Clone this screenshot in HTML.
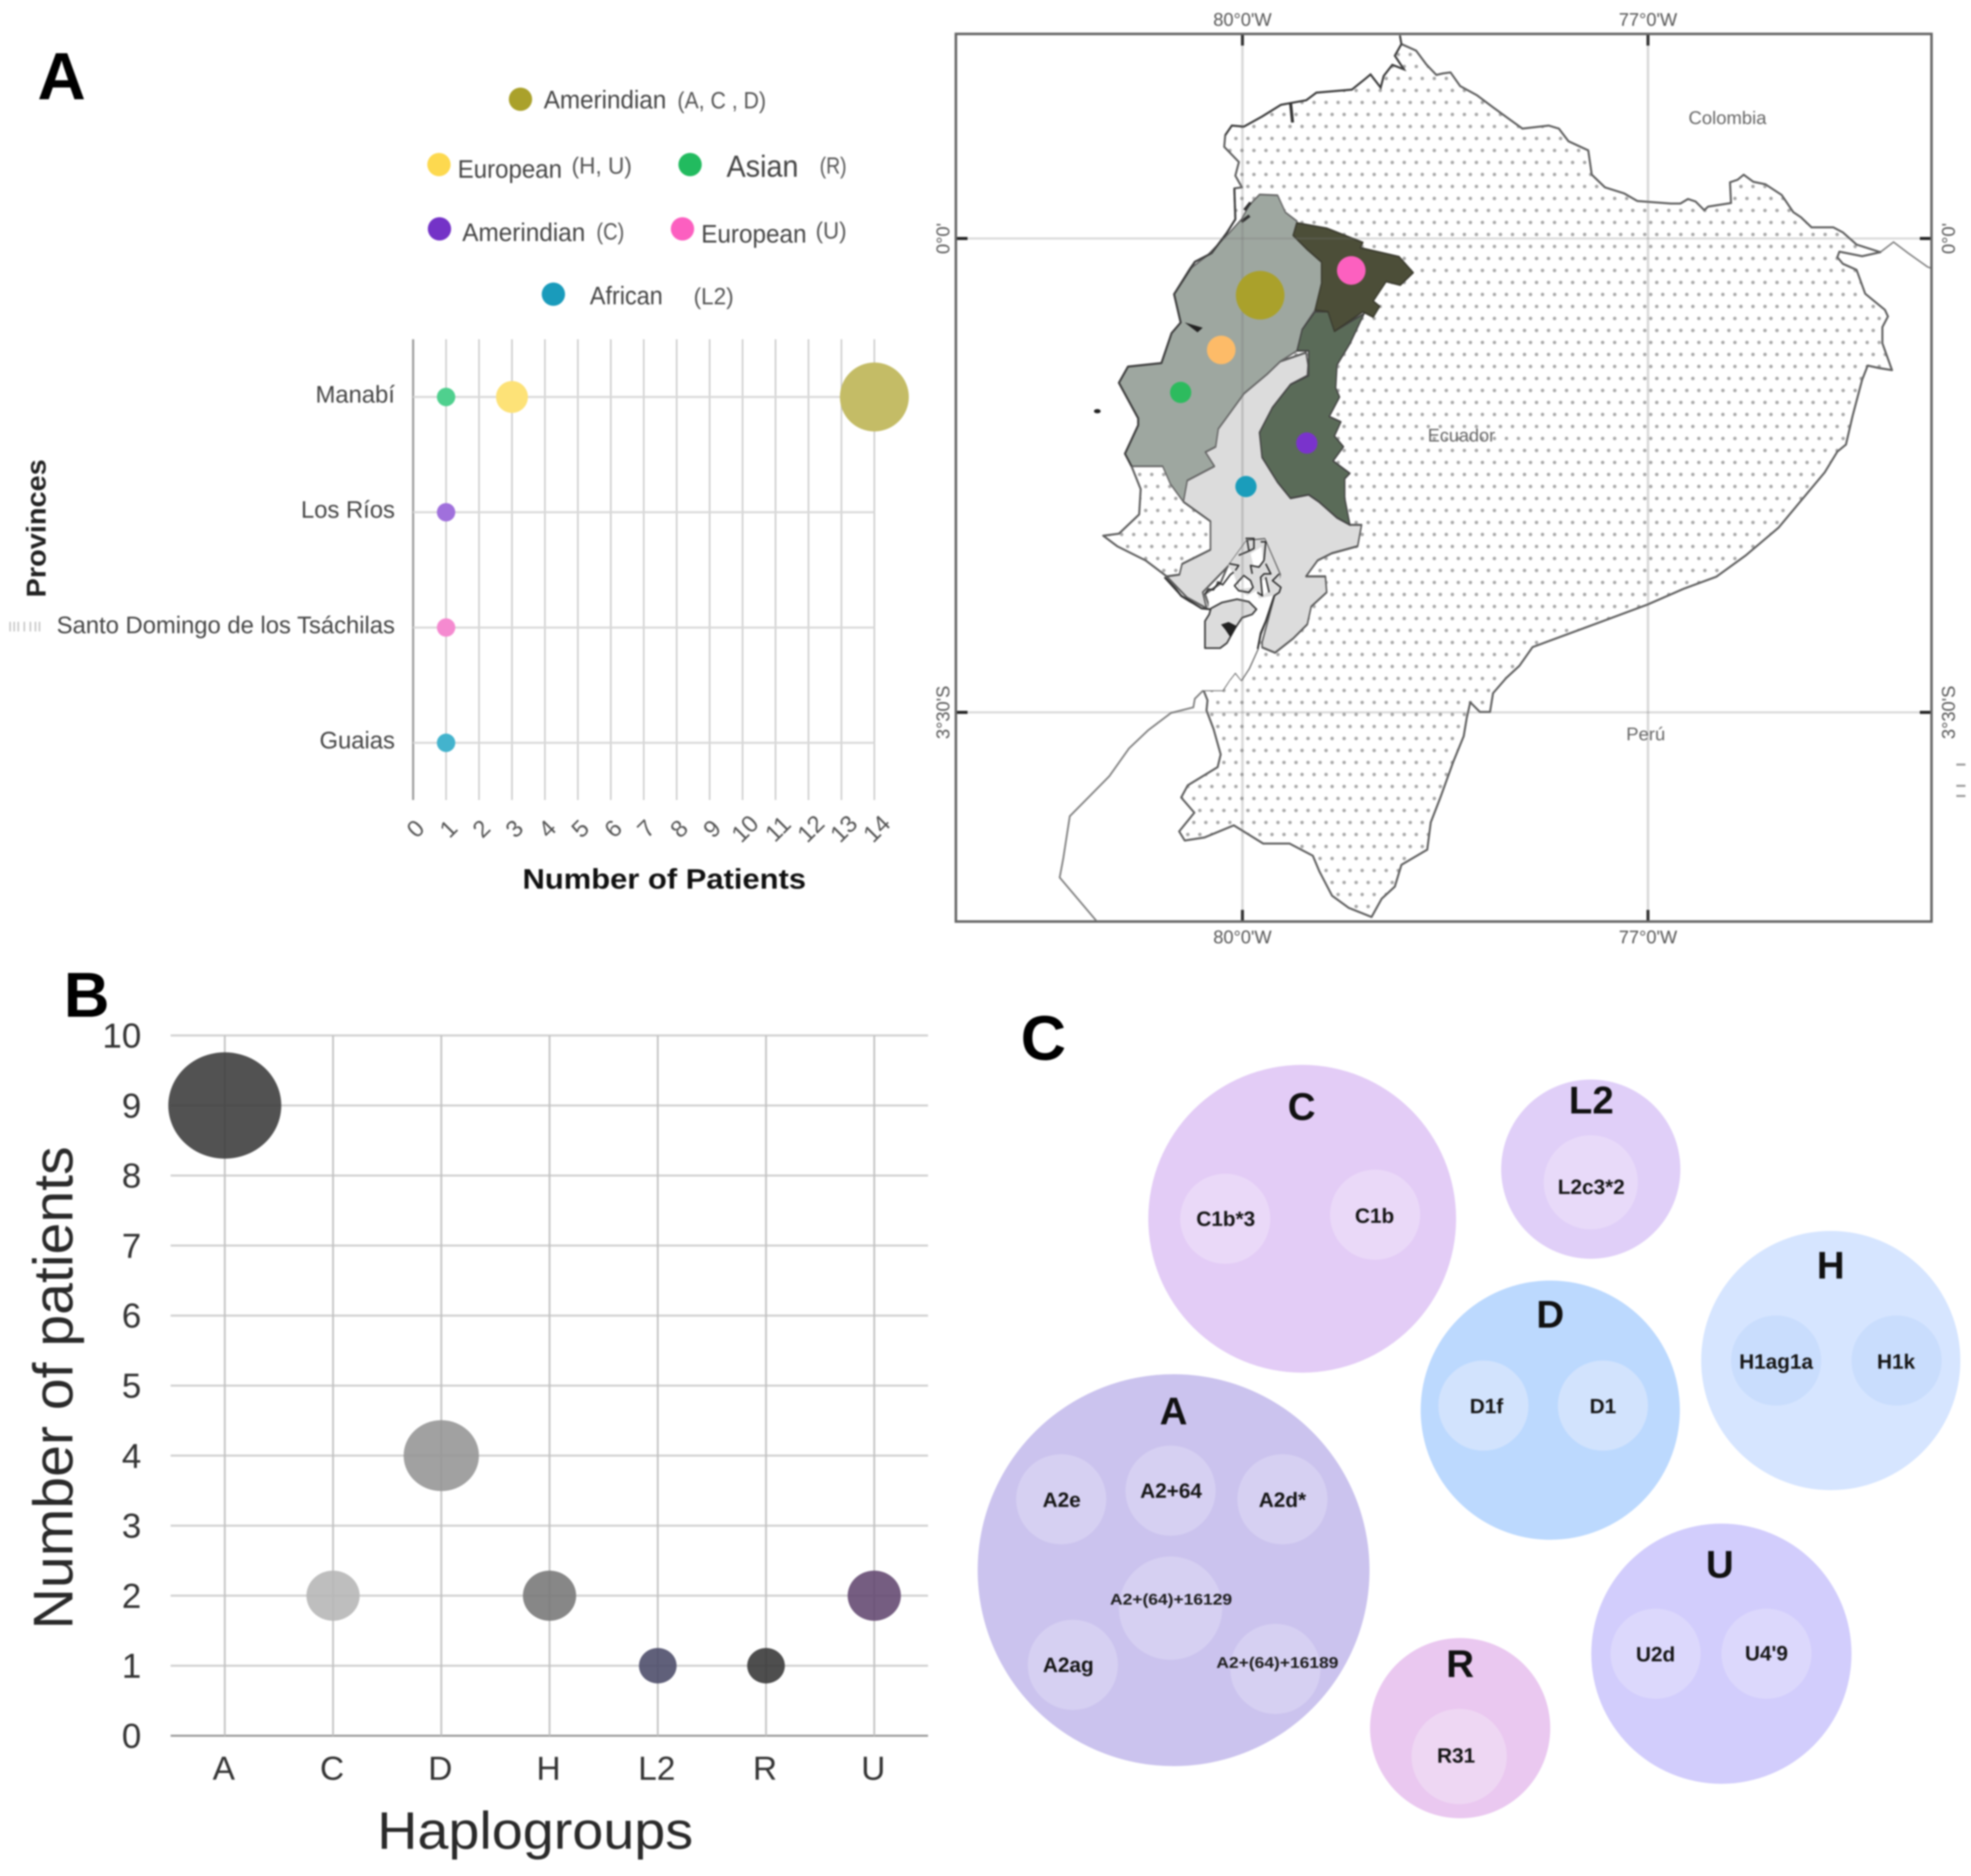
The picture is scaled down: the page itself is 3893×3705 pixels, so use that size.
<!DOCTYPE html>
<html lang="en">
<head>
<meta charset="utf-8">
<title>Haplogroups in Ecuador</title>
<style>
html,body{margin:0;padding:0;background:#fff;width:3893px;height:3705px;overflow:hidden}
svg{position:absolute;left:0;top:0;filter:blur(1.5px)}
text{font-family:"Liberation Sans",sans-serif}
.leg{font-size:50px;fill:#444}
.par{font-size:46px;fill:#555}
.maplab{font-size:36px;fill:#666}
.hap{font-size:76px;font-weight:bold;fill:#111;text-anchor:middle}
.sub{font-size:41px;font-weight:bold;fill:#151515;text-anchor:middle}
.tiny{font-size:31px;font-weight:bold;fill:#1c1c1c;text-anchor:middle}
</style>
</head>
<body>
<svg id="fig" xmlns="http://www.w3.org/2000/svg" width="3893" height="3705" viewBox="0 0 3893 3705">
  <defs>
    <pattern id="dots" patternUnits="userSpaceOnUse" width="23.75" height="47.4" patternTransform="translate(2755.8 149.1)">
      <circle cx="5.9" cy="5.9" r="3.5" fill="#a8a8a8"/>
      <circle cx="17.8" cy="29.6" r="3.5" fill="#a8a8a8"/>
    </pattern>
  </defs>
  <rect width="3893" height="3705" fill="#fff"/>

  <text x="74" y="196" font-size="132" font-weight="bold" fill="#000">A</text>
  <text x="126" y="2008" font-size="125" font-weight="bold" fill="#000">B</text>
  <text x="2016" y="2093" font-size="124" font-weight="bold" fill="#000">C</text>

  <g>
    <circle cx="1028" cy="196" r="23" fill="#aaa12b"/>
    <text class="leg" x="1074" y="214" textLength="242" lengthAdjust="spacingAndGlyphs">Amerindian</text>
    <text class="par" x="1338" y="214" textLength="175" lengthAdjust="spacingAndGlyphs">(A, C , D)</text>
    <circle cx="867" cy="325" r="23" fill="#fdd94f"/>
    <text class="leg" x="904" y="351" textLength="206" lengthAdjust="spacingAndGlyphs">European</text>
    <text class="par" x="1129" y="343" textLength="119" lengthAdjust="spacingAndGlyphs">(H, U)</text>
    <circle cx="1363" cy="325" r="23" fill="#22bb5f"/>
    <text class="leg" x="1435" y="349" style="font-size:60px" textLength="142" lengthAdjust="spacingAndGlyphs">Asian</text>
    <text class="par" x="1619" y="343" textLength="53" lengthAdjust="spacingAndGlyphs">(R)</text>
    <circle cx="868" cy="452" r="23" fill="#7433c7"/>
    <text class="leg" x="913" y="476" textLength="243" lengthAdjust="spacingAndGlyphs">Amerindian</text>
    <text class="par" x="1178" y="473" textLength="55" lengthAdjust="spacingAndGlyphs">(C)</text>
    <circle cx="1348" cy="452" r="23" fill="#fc5fc0"/>
    <text class="leg" x="1385" y="479" textLength="208" lengthAdjust="spacingAndGlyphs">European</text>
    <text class="par" x="1611" y="471" textLength="61" lengthAdjust="spacingAndGlyphs">(U)</text>
    <circle cx="1093" cy="581" r="23" fill="#1a9bbb"/>
    <text class="leg" x="1165" y="601" textLength="144" lengthAdjust="spacingAndGlyphs">African</text>
    <text class="par" x="1370" y="601" textLength="79" lengthAdjust="spacingAndGlyphs">(L2)</text>
  </g>

  <g id="chartA"></g>
  <text transform="translate(90 1180) rotate(-90)" font-size="54" font-weight="bold" fill="#222" textLength="273" lengthAdjust="spacingAndGlyphs">Provinces</text>
  <text x="1032" y="1755" font-size="56" font-weight="bold" fill="#111" textLength="560" lengthAdjust="spacingAndGlyphs">Number of Patients</text>
  <g stroke="#c4c4c4" stroke-width="3">
    <path d="M20 1228V1247M28 1228V1247M36 1228V1247M48 1228V1247M60 1228V1247M70 1228V1247M78 1228V1247"/>
  </g>

  <g>
    <path fill="none" stroke="#808080" stroke-width="3.5" d="M2377 1363L2360 1380L2357 1397L2313 1408L2268 1442L2230 1478L2191 1533L2113 1612L2100 1696L2093 1733L2165 1818"/>
    <path fill="none" stroke="#808080" stroke-width="3" d="M3714 498L3740 478L3769 500L3807 527L3815 530"/>
    <path fill="url(#dots)" stroke="#5f5f5f" stroke-width="4" stroke-linejoin="round" d="M2768 87L2797 100L2817 127L2837 148L2850 145L2865 143L2884 170L2917 188L2949 212L2982 236L3007 254L3059 248L3079 254L3098 279L3137 297L3144 345L3170 370L3208 382L3234 397L3300 402L3319 402L3334 393L3349 398L3366 415L3374 408L3419 401L3417 360L3432 355L3444 345L3463 359L3487 364L3519 385L3542 419L3557 429L3578 449L3621 449L3640 459L3667 483L3714 498L3678 506L3633 497L3629 508L3640 521L3667 533L3684 580L3723 612L3729 625L3718 646L3718 678L3737 731L3712 727L3689 722L3678 750L3659 822L3646 878L3629 892L3604 933L3558 988L3513 1042L3448 1097L3390 1139L3325 1163L3254 1194L3157 1230L3092 1254L3027 1278L3001 1315L2975 1339L2949 1369L2943 1406L2923 1406L2904 1387L2897 1418L2891 1454L2871 1503L2858 1539L2845 1575L2826 1624L2819 1678L2768 1708L2755 1751L2729 1775L2709 1811L2664 1793L2631 1769L2606 1721L2593 1690L2547 1666L2495 1666L2437 1630L2379 1654L2340 1660L2329 1642L2359 1605L2333 1575L2346 1551L2405 1515L2411 1490L2397 1440L2383 1403L2385 1383L2377 1363L2415 1363L2428 1343L2440 1328L2452 1343L2467 1320L2484 1282L2490 1253L2500 1227L2517 1177L2527 1167L2527 1133L2500 1070L2463 1063L2447 1097L2427 1113L2410 1153L2380 1173L2390 1203L2373 1202L2333 1177L2304 1138L2263 1107L2207 1079L2179 1058L2210 1054L2250 1016L2253 966L2235 921L2222 896L2248 840L2248 826L2210 756L2228 724L2294 717L2314 658L2332 637L2319 581L2350 531L2360 517L2393 500L2423 460L2440 433L2438 372L2453 370L2440 347L2447 320L2418 290L2420 267L2433 248L2457 250L2493 230L2530 207L2580 198L2600 183L2670 177L2695 157L2707 147L2727 173L2733 150L2750 128L2773 137L2755 110Z"/>
    <path fill="none" stroke="#3e3e3e" stroke-width="4" d="M2765 70L2768 87L2755 110L2773 137L2750 128L2733 150L2727 173L2707 147L2695 157L2670 177L2600 183L2580 198L2530 207L2493 230L2457 250L2433 248L2420 267"/>
    <path fill="none" stroke="#333" stroke-width="6" d="M2549 203L2553 242"/>
    <g transform="translate(2100 300) scale(.5102 .7015)">
      <path fill="#dcdcdc" stroke="#5a5a5a" stroke-width="6" stroke-linejoin="round" d="M940 565L948 600L945 630L880 655L810 720L760 790L770 860L830 930L880 975L950 965L990 985L1060 1030L1110 1050L1155 1050L1140 1110L1040 1130L985 1150L940 1195L1015 1195L1020 1240L960 1280L945 1330L890 1370L820 1410L770 1395L770 1380L840 1190L780 1090L710 1095L640 1165L540 1240L555 1285L480 1255L400 1195L450 1190L460 1160L570 1120L570 1040L465 985L480 925L585 885L550 845L590 830L600 780L640 740L700 680L790 625L840 590Z"/>
      <path fill="#9ea7a0" stroke="#666" stroke-width="5" stroke-linejoin="round" d="M690 190L720 150L760 120L830 122L860 170L905 195L890 235L945 275L1000 310L1000 370L975 445L925 500L905 560L840 590L790 625L700 680L640 740L600 780L590 830L550 845L585 885L480 925L465 985L415 935L385 885L265 885L240 850L265 810L290 770L290 750L215 650L250 605L380 595L420 510L455 480L430 400L490 330L560 290L640 230Z"/>
      <path fill="#5a6b58" stroke="#444" stroke-width="5" stroke-linejoin="round" d="M975 450L1025 450L1050 505L1165 455L1110 540L1060 600L1055 665L1070 690L1030 745L1075 760L1050 800L1085 830L1045 870L1110 905L1090 920L1090 975L1110 1050L1060 1030L990 985L950 965L880 975L830 930L770 860L760 790L810 720L880 655L950 630L950 560L905 560L925 500Z"/>
      <path fill="#4c4e38" stroke="#3c3c30" stroke-width="5" stroke-linejoin="round" d="M905 200L1020 215L1160 255L1150 270L1300 295L1355 340L1305 375L1250 365L1200 420L1225 435L1200 465L1160 450L1050 505L1025 450L975 445L1000 370L1000 310L945 275L890 235Z"/>
      <path fill="#222" d="M470 480L540 495L520 508Z"/>
      <ellipse cx="132" cy="730" rx="13" ry="6" fill="#222"/>
    </g>
    <path fill="none" stroke="#3e3e3e" stroke-width="4" stroke-linejoin="round" d="M2438 372L2440 433L2423 460L2393 500L2360 517L2350 533L2319 581L2332 637L2314 658L2294 717L2228 724L2210 756L2248 826L2248 840L2222 896L2235 921"/>
    <path fill="none" stroke="#333" stroke-width="6" d="M2452 438L2468 426M2458 415L2470 400"/>
    <g transform="translate(2300 1020) scale(.33333)">
      <path fill="#dcdcdc" d="M486 144L594 135L684 345L680 450L640 470L560 485L545 440L490 470L440 430L410 340L378 291Z"/>
      <path fill="#fff" d="M262 545L262 510L350 430L410 340L440 430L490 470L545 440L560 485L640 470L600 620L570 700L552 785L500 900L455 970L420 925L385 970L345 1030L230 1030L100 1000L100 700L150 510L220 545Z"/>
      <path fill="#fff" d="M440 380L470 350L510 385L520 420L450 430ZM575 380L610 370L620 440L580 470ZM510 220L575 180L585 280L530 300Z"/>
      <path fill="none" stroke="#2a2a2a" stroke-width="9" stroke-linejoin="round" d="M480 130H530V190L500 205L440 230M490 140L500 200M570 150H600L590 260M385 280L440 290L420 320M415 410L470 350L510 380L525 420L500 450L440 440ZM600 280L630 340L590 340L570 360L580 470L550 450M680 340L640 380L690 420L680 450L650 470M600 360L620 450M590 260L560 300L510 290L520 340M240 460L260 430L290 435L320 390L345 405L390 345L410 330"/>
      <path fill="none" stroke="#2f2f2f" stroke-width="10" d="M650 470L640 500L600 620L570 690L552 785"/>
      <path fill="none" stroke="#333" stroke-width="11" d="M0 360L100 470L220 545L270 550"/>
      <path fill="#dcdcdc" stroke="#3a3a3a" stroke-width="10" stroke-linejoin="round" d="M275 545L340 510L430 490L500 505L545 550L520 580L460 600L420 660L370 750L330 780L240 780L240 620L265 580Z"/>
      <path fill="#222" d="M335 640L380 625L430 650L390 715L360 670Z"/>
    </g>
    <g id="mapOverlay"></g>
    <rect x="1888" y="67" width="1927" height="1753" fill="none" stroke="#666" stroke-width="5"/>
    <text class="maplab" x="3335" y="245" textLength="154" lengthAdjust="spacingAndGlyphs">Colombia</text>
    <text class="maplab" x="2820" y="872" textLength="133" lengthAdjust="spacingAndGlyphs">Ecuador</text>
    <text class="maplab" x="3212" y="1462" textLength="77" lengthAdjust="spacingAndGlyphs">Perú</text>
    <path d="M3864 1510H3882M3864 1552H3882M3864 1572H3882" stroke="#999" stroke-width="4"/>
  </g>

  <g id="chartB"></g>
  <text x="745" y="3651" font-size="104" fill="#2a2a2a" textLength="624" lengthAdjust="spacingAndGlyphs">Haplogroups</text>
  <text transform="translate(143 3218) rotate(-90)" font-size="110" fill="#2a2a2a" textLength="954" lengthAdjust="spacingAndGlyphs">Number of patients</text>

  <g>
    <g>
      <circle cx="2572" cy="2407" r="304" fill="#e3ccf6"/>
      <circle cx="2420" cy="2407" r="89" fill="#ead9f8"/>
      <circle cx="2716" cy="2399" r="89" fill="#ead9f8"/>
      <text class="hap" x="2571" y="2212">C</text>
      <text class="sub" x="2421" y="2421">C1b*3</text>
      <text class="sub" x="2715" y="2415">C1b</text>
    </g>
    <g>
      <circle cx="3142" cy="2309" r="177" fill="#e0cff8"/>
      <circle cx="3142" cy="2335" r="93" fill="#e8daf9"/>
      <text class="hap" x="3143" y="2199">L2</text>
      <text class="sub" x="3143" y="2358">L2c3*2</text>
    </g>
    <g>
      <circle cx="3616" cy="2687" r="256" fill="#d6e5ff"/>
      <circle cx="3508" cy="2687" r="89" fill="#c9ddfd"/>
      <circle cx="3746" cy="2687" r="89" fill="#c9ddfd"/>
      <text class="hap" x="3616" y="2525">H</text>
      <text class="sub" x="3508" y="2703">H1ag1a</text>
      <text class="sub" x="3745" y="2703">H1k</text>
    </g>
    <g>
      <circle cx="3062" cy="2785" r="256" fill="#bcd9fe"/>
      <circle cx="2930" cy="2776" r="89" fill="#d2e3fd"/>
      <circle cx="3166" cy="2776" r="89" fill="#d2e3fd"/>
      <text class="hap" x="3062" y="2622">D</text>
      <text class="sub" x="2936" y="2791">D1f</text>
      <text class="sub" x="3166" y="2791">D1</text>
    </g>
    <g>
      <circle cx="2318" cy="3101" r="387" fill="#cbc3ee"/>
      <circle cx="2096" cy="2961" r="89" fill="#d6d0f2"/>
      <circle cx="2312" cy="2944" r="89" fill="#d6d0f2"/>
      <circle cx="2533" cy="2961" r="89" fill="#d6d0f2"/>
      <circle cx="2312" cy="3176" r="102" fill="#d6d0f2"/>
      <circle cx="2119" cy="3288" r="89" fill="#d6d0f2"/>
      <circle cx="2519" cy="3296" r="89" fill="#d6d0f2"/>
      <text class="hap" x="2318" y="2813">A</text>
      <text class="sub" x="2097" y="2976">A2e</text>
      <text class="sub" x="2313" y="2958">A2+64</text>
      <text class="sub" x="2533" y="2976">A2d*</text>
      <text class="tiny" x="2313" y="3169" textLength="241" lengthAdjust="spacingAndGlyphs">A2+(64)+16129</text>
      <text class="sub" x="2110" y="3302">A2ag</text>
      <text class="tiny" x="2523" y="3294" textLength="241" lengthAdjust="spacingAndGlyphs">A2+(64)+16189</text>
    </g>
    <g>
      <circle cx="2884" cy="3413" r="178" fill="#eac8f0"/>
      <circle cx="2882" cy="3469" r="94" fill="#eed7f3"/>
      <text class="hap" x="2884" y="3312">R</text>
      <text class="sub" x="2876" y="3481">R31</text>
    </g>
    <g>
      <circle cx="3400" cy="3266" r="257" fill="#d2cdfc"/>
      <circle cx="3270" cy="3266" r="89" fill="#dcd8fc"/>
      <circle cx="3489" cy="3266" r="89" fill="#dcd8fc"/>
      <text class="hap" x="3397" y="3116">U</text>
      <text class="sub" x="3270" y="3281">U2d</text>
      <text class="sub" x="3489" y="3279">U4'9</text>
    </g>
  </g>
</svg>
<script>
// Panel A values
const provinceCategories = ['Manabí', 'Los Ríos', 'Santo Domingo de los Tsáchilas', 'Guaias'];
const patientTicks = [0, 1, 2, 3, 4, 5, 6, 7, 8, 9, 10, 11, 12, 13, 14];
const provinceBubbleRow = [0, 0, 0, 1, 2, 3];
const provinceBubblePatients = [1, 3, 14, 1, 1, 1];
const provinceBubbleColors = ['#4fd08e', '#fde277', '#c4bc66', '#a070dc', '#f58ad0', '#43b3cd'];

// Panel A map markers
const markerLon = [-79.869, -80.157, -80.457, -79.195, -79.524, -79.974];
const markerLat = [-0.419, -0.823, -1.137, -0.236, -1.511, -1.832];
const markerSizeValue = [14, 3, 1, 3, 1, 1];
const markerNames = ['amerindian', 'european-hu', 'asian', 'european-u', 'amerindian-c', 'african'];
const markerColors = ['#aaa12b', '#fdbb68', '#2dbb5e', '#fc60bf', '#7a33cc', '#1a9dbb'];
const lonTicks = [-80, -77];
const lonTickLabels = ["80°0'W", "77°0'W"];
const latTicks = [0, -3.5];
const latTickLabels = ["0°0'", "3°30'S"];

// Panel B values
const haplogroups = ['A', 'C', 'D', 'H', 'L2', 'R', 'U'];
const haplogroupPatients = [9, 2, 4, 2, 1, 1, 2];
const haplogroupColors = ['#3a3a3a', '#b5b5b5', '#949494', '#767676', '#4a4a68', '#363636', '#624770'];
const countTicks = [0, 1, 2, 3, 4, 5, 6, 7, 8, 9, 10];

const NS = 'http://www.w3.org/2000/svg';
function mk(parent, tag, attrs, txt) {
  const el = document.createElementNS(NS, tag);
  for (const k in attrs) el.setAttribute(k, attrs[k]);
  if (txt !== undefined) el.textContent = txt;
  parent.appendChild(el);
  return el;
}

// ---- Panel A chart
const gA = document.getElementById('chartA');
const xA = v => 816 + v * 65.07;
const yA = i => 784 + i * 227.67;
const rA = v => 18.2 * Math.sqrt(v);
patientTicks.forEach(t => {
  const gl = mk(gA, 'line', {x1: xA(t), x2: xA(t), y1: 670, y2: 1580, stroke: t === 0 ? '#999' : '#cbcbcb', 'stroke-width': t === 0 ? 4 : 3});
  
  
  const tl = mk(gA, 'text', {transform: 'translate(' + (xA(t) + 16) + ' 1648) rotate(-45)', 'text-anchor': 'middle', 'font-size': 47, fill: '#555'}, String(t));
  
  
});
provinceCategories.forEach((p, i) => {
  const gl = mk(gA, 'line', {x1: xA(0), x2: xA(14), y1: yA(i), y2: yA(i), stroke: '#d9d9d9', 'stroke-width': 4});
  
  
  const tl = mk(gA, 'text', {x: 780, y: yA(i) + 11, 'text-anchor': 'end', 'font-size': 47, fill: '#444'}, p);
  
  
});
provinceBubblePatients.forEach((v, i) => {
  const c = mk(gA, 'circle', {cx: xA(v), cy: yA(provinceBubbleRow[i]), r: rA(v), fill: provinceBubbleColors[i]});
  
  
});

// ---- Map graticule and markers
const gM = document.getElementById('mapOverlay');
const xM = lon => 2454 + (lon + 80) * 267;
const yM = lat => 471 - lat * 267.4;
const rM = v => 11.15 + 9.85 * Math.sqrt(v);
lonTicks.forEach((lon, i) => {
  const gl = mk(gM, 'line', {x1: xM(lon), x2: xM(lon), y1: 67, y2: 1820, stroke: '#777', 'stroke-opacity': .28, 'stroke-width': 5});
  
  
  [[67, 90], [1797, 1820]].forEach(s => {
    const tk = mk(gM, 'line', {x1: xM(lon), x2: xM(lon), y1: s[0], y2: s[1], stroke: '#333', 'stroke-width': 6});
    
    
  });
  [51, 1863].forEach(y => {
    const tl = mk(gM, 'text', {x: xM(lon), y: y, 'text-anchor': 'middle', 'font-size': 36, fill: '#555'}, lonTickLabels[i]);
    
    
  });
});
latTicks.forEach((lat, i) => {
  const gl = mk(gM, 'line', {x1: 1888, x2: 3815, y1: yM(lat), y2: yM(lat), stroke: '#777', 'stroke-opacity': .28, 'stroke-width': 4});
  
  
  [[1888, 1911], [3792, 3815]].forEach(s => {
    const tk = mk(gM, 'line', {x1: s[0], x2: s[1], y1: yM(lat), y2: yM(lat), stroke: '#222', 'stroke-width': 6});
    
    
  });
  [1875, 3861].forEach(x => {
    const tl = mk(gM, 'text', {transform: 'translate(' + x + ' ' + yM(lat) + ') rotate(-90)', 'text-anchor': 'middle', 'font-size': 36, fill: '#555'}, latTickLabels[i]);
    
    
  });
});
markerLon.forEach((lon, i) => {
  const c = mk(gM, 'circle', {cx: xM(lon), cy: yM(markerLat[i]), r: rM(markerSizeValue[i]), fill: markerColors[i]});
  
  
});

// ---- Panel B chart
const gB = document.getElementById('chartB');
const xB = i => 444 + i * 213.8;
const yB = v => 3428 - v * 138.3;
countTicks.forEach(t => {
  const gl = mk(gB, 'line', {x1: 337, x2: 1833, y1: yB(t), y2: yB(t), stroke: t === 0 ? '#999' : '#d0d0d0', 'stroke-width': 4});
  
  
  const tl = mk(gB, 'text', {x: 279, y: yB(t) + 24, 'text-anchor': 'end', 'font-size': 69, fill: '#333'}, String(t));
  
  
});
haplogroups.forEach((h, i) => {
  const gl = mk(gB, 'line', {x1: xB(i), x2: xB(i), y1: yB(10), y2: yB(0), stroke: '#c2c2c2', 'stroke-width': 3.5});
  
  
  const tl = mk(gB, 'text', {x: xB(i) - 2, y: 3515, 'text-anchor': 'middle', 'font-size': 66, fill: '#333'}, h);
  
  
});
haplogroupPatients.forEach((v, i) => {
  const e = mk(gB, 'ellipse', {cx: xB(i), cy: yB(v), rx: 37.2 * Math.sqrt(v), ry: 35 * Math.sqrt(v), fill: haplogroupColors[i], 'fill-opacity': .88});
  
  
});
</script>
</body>
</html>
